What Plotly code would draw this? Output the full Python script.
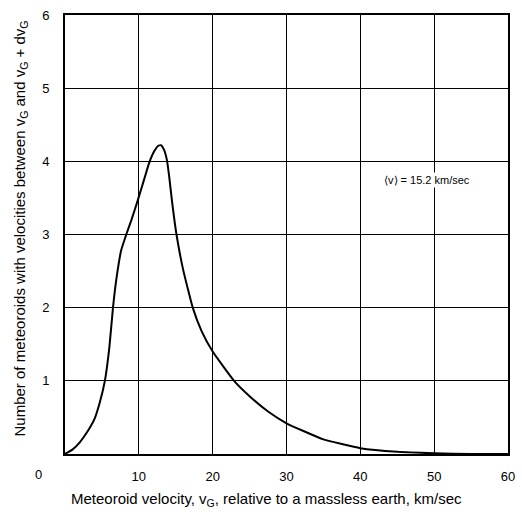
import plotly.graph_objects as go

# Data
velocity = [0, 1, 2, 3, 4, 4.7, 5.4, 6, 6.5, 7, 7.6, 8.3, 9, 9.8, 10.5, 11.4, 12.1, 12.6, 13.0,
            13.4, 13.8, 14.1, 14.5, 15.1, 16, 17.3, 18.5, 20, 22.9, 25, 27.5, 30, 35, 40, 45, 50, 55, 60]
number = [0, 0.06, 0.16, 0.3, 0.48, 0.7, 1.0, 1.45, 2.0, 2.42, 2.78, 3.0, 3.2, 3.45, 3.68, 3.98, 4.14, 4.21, 4.22,
          4.16, 4.02, 3.8, 3.45, 3.0, 2.52, 2.0, 1.68, 1.4, 1.0, 0.79, 0.58, 0.42, 0.2, 0.08, 0.03, 0.01, 0.0, 0.0]
x_ticks = [10, 20, 30, 40, 50, 60]
y_ticks = [1, 2, 3, 4, 5, 6]

FONT = "Liberation Sans, Arial, sans-serif"

fig = go.Figure()
fig.add_trace(go.Scatter(
    x=velocity, y=number, mode="lines",
    line=dict(color="black", width=2, shape="spline", smoothing=0.4),
    hoverinfo="skip",
))

fig.update_layout(
    width=522, height=512,
    margin=dict(l=65, r=7, t=15, b=58),
    plot_bgcolor="white", paper_bgcolor="white",
    showlegend=False,
    font=dict(family=FONT, size=13, color="black"),
)
fig.update_xaxes(
    range=[0, 60], tickvals=x_ticks, ticktext=[str(v) for v in x_ticks],
    showgrid=True, gridcolor="black", gridwidth=1,
    showline=True, linecolor="black", linewidth=2, mirror=True,
    ticks="", zeroline=False, ticklabelstandoff=9,
    tickfont=dict(family=FONT, size=13),
)
fig.update_yaxes(
    range=[0, 6], tickvals=y_ticks, ticktext=[str(v) for v in y_ticks],
    showgrid=True, gridcolor="black", gridwidth=1,
    showline=True, linecolor="black", linewidth=2, mirror=True,
    ticks="", zeroline=False, ticklabelstandoff=11,
    tickfont=dict(family=FONT, size=13),
)

# origin label
fig.add_annotation(x=0, y=0, xref="paper", yref="paper", text="0", showarrow=False,
                   xanchor="center", yanchor="middle",
                   xshift=-27, yshift=-20, font=dict(family=FONT, size=13))
# axis titles
fig.add_annotation(x=0.5, y=0, xref="paper", yref="paper",
                   text="Meteoroid velocity, v<sub>G</sub>, relative to a massless earth, km/sec",
                   showarrow=False, xanchor="center", yanchor="middle",
                   xshift=-20, yshift=-45, font=dict(family=FONT, size=15))
fig.add_annotation(x=0, y=0.5, xref="paper", yref="paper", textangle=-90,
                   text="Number of meteoroids with velocities between v<sub>G</sub> and v<sub>G</sub> + dv<sub>G</sub>",
                   showarrow=False, xanchor="center", yanchor="middle",
                   xshift=-45, yshift=6, font=dict(family=FONT, size=15))
# mean velocity note
fig.add_annotation(x=43, y=3.75, xref="x", yref="y", text="⟨v⟩ = 15.2 km/sec",
                   showarrow=False, xanchor="left", font=dict(family=FONT, size=11),
                   bgcolor="white")

fig.write_html("out.html")
